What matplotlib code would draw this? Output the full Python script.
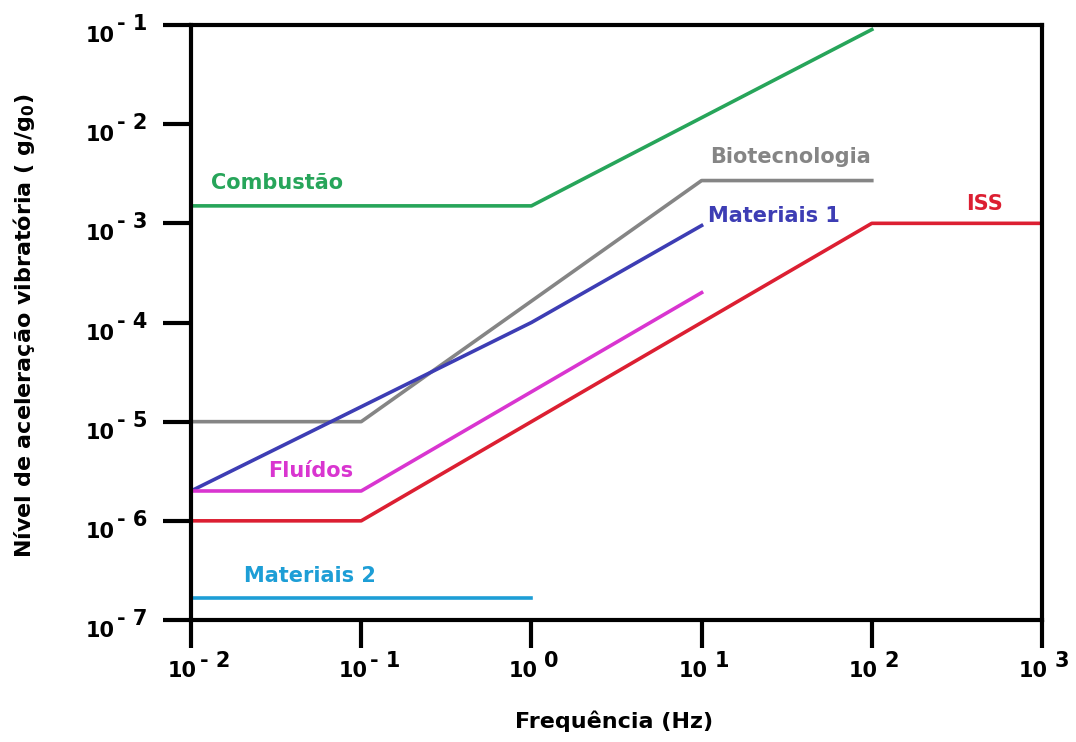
import matplotlib
matplotlib.use('Agg')
import matplotlib.pyplot as plt

plt.rcParams['font.family'] = ['DejaVu Sans']
plt.rcParams['font.weight'] = 'bold'
plt.rcParams['mathtext.fontset'] = 'custom'
plt.rcParams['mathtext.rm'] = 'DejaVu Sans:bold'
plt.rcParams['mathtext.bf'] = 'DejaVu Sans:bold'
plt.rcParams['mathtext.default'] = 'bf'

# data (Hz, g/g0)
comb_x = [1e-2, 1e0, 1e2]
comb_y = [1.5e-3, 1.5e-3, 9e-2]
bio_x = [1e-2, 1e-1, 1e1, 1e2]
bio_y = [1e-5, 1e-5, 2.7e-3, 2.7e-3]
mat1_x = [1e-2, 1e0, 1e1]
mat1_y = [2e-6, 1e-4, 9.5e-4]
flu_x = [1e-2, 1e-1, 1e1]
flu_y = [2e-6, 2e-6, 2e-4]
iss_x = [1e-2, 1e-1, 1e2, 1e3]
iss_y = [1e-6, 1e-6, 1e-3, 1e-3]
mat2_x = [1e-2, 1e0]
mat2_y = [1.65e-7, 1.65e-7]

xexp = [-2, -1, 0, 1, 2, 3]
yexp = [-7, -6, -5, -4, -3, -2, -1]

green = '#27a55a'
gray = '#858585'
blue = '#3d3db4'
magenta = '#d935d0'
red = '#dc1f32'
cyan = '#1d9ed6'

fig = plt.figure(figsize=(10.76, 7.42), dpi=100)
ax = fig.add_axes([191/1076, 122/742, 851/1076, 595/742])
ax.set_xscale('log')
ax.set_yscale('log')
ax.set_xlim(1e-2, 1e3)
ax.set_ylim(1e-7, 1e-1)

lw = 2.6
ax.plot(comb_x, comb_y, color=green, lw=lw)
ax.plot(bio_x, bio_y, color=gray, lw=lw)
ax.plot(mat1_x, mat1_y, color=blue, lw=lw)
ax.plot(flu_x, flu_y, color=magenta, lw=lw)
ax.plot(iss_x, iss_y, color=red, lw=lw)
ax.plot(mat2_x, mat2_y, color=cyan, lw=lw)

fs = 15
ax.text(1.31e-2, 2.55e-3, 'Combustão', color=green, fontsize=fs, va='center')
ax.text(11.2, 4.67e-3, 'Biotecnologia', color=gray, fontsize=fs, va='center')
ax.text(10.9, 1.18e-3, 'Materiais 1', color=blue, fontsize=fs, va='center')
ax.text(357, 1.57e-3, 'ISS', color=red, fontsize=fs, va='center')
ax.text(2.83e-2, 3.18e-6, 'Fluídos', color=magenta, fontsize=fs, va='center')
ax.text(2.05e-2, 2.78e-7, 'Materiais 2', color=cyan, fontsize=fs, va='center')

for s in ax.spines.values():
    s.set_linewidth(3)
ax.minorticks_off()
ax.set_xticks([10.0**e for e in xexp])
ax.set_yticks([10.0**e for e in yexp])
ax.set_xticklabels([])
ax.set_yticklabels([])
ax.tick_params(axis='both', direction='out', length=20, width=3, color='black')

tfs = 15
for e in yexp:
    ax.annotate('10', xy=(0, 10.0**e), xycoords=ax.get_yaxis_transform(),
                xytext=(-76, -11), textcoords='offset pixels', ha='right', va='center',
                fontsize=tfs)
    ax.annotate('- ' + str(abs(e)), xy=(0, 10.0**e), xycoords=ax.get_yaxis_transform(),
                xytext=(-74, 1), textcoords='offset pixels', ha='left', va='center',
                fontsize=tfs)
for e in xexp:
    sup = ('- ' + str(abs(e))) if e < 0 else str(e)
    ax.annotate('10', xy=(10.0**e, 0), xycoords=ax.get_xaxis_transform(),
                xytext=(6, -51), textcoords='offset pixels', ha='right', va='center',
                fontsize=tfs)
    ax.annotate(sup, xy=(10.0**e, 0), xycoords=ax.get_xaxis_transform(),
                xytext=(9 if e < 0 else 13, -41), textcoords='offset pixels', ha='left', va='center',
                fontsize=tfs)

fig.text(614/1076, 1 - 721/742, 'Frequência (Hz)', ha='center', va='center', fontsize=16)
fig.text(24/1076, 1 - 326/742, 'Nível de aceleração vibratória ( g/g$_0$)', rotation=90,
         ha='center', va='center', fontsize=16)

fig.savefig('out.png', dpi=100)
